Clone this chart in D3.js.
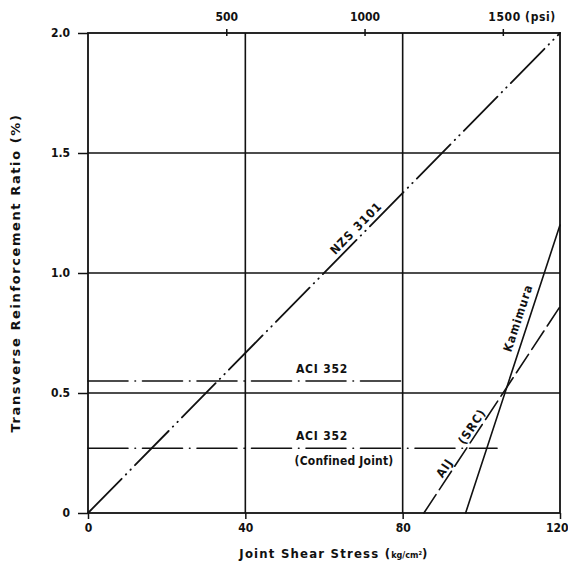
<!DOCTYPE html>
<html><head><meta charset="utf-8">
<script src="https://cdn.jsdelivr.net/npm/d3@7"></script>
<style>
body{margin:0;background:#fff;}
text{font-family:"DejaVu Sans Condensed","DejaVu Sans",sans-serif;fill:#111;}
</style></head><body>
<svg id="c" width="568" height="572"></svg>
<script>
// ---- data ----
const xTicks = [0, 40, 80, 120];
const xTickLabels = ["0", "40", "80", "120"];
const yTicks = [0, 0.5, 1.0, 1.5, 2.0];
const yTickLabels = ["0", "0.5", "1.0", "1.5", "2.0"];
const psiTicks = [500, 1000, 1500];
const psiTickLabels = ["500", "1000", "1500 (psi)"];
const psiPerKg = 14.223;
const nzs = [[0, 0], [120, 2.0]];
const aci = [[0, 0.55], [80, 0.55]];
const aciConfined = [[0, 0.27], [104, 0.27]];
const kamimura = [[96, 0], [120, 1.2]];
const aij = [[85.4, 0], [120, 0.86]];

const svg = d3.select("#c");
const x = d3.scaleLinear().domain([0, 120]).range([88, 560]);
const y = d3.scaleLinear().domain([0, 2]).range([513, 33]);
const xp = d3.scaleLinear().domain([0, 120 * psiPerKg]).range([88, 560]);

// grid
const g = svg.append("g");
g.selectAll("line.hg").data([0.5, 1.0, 1.5]).join("line")
  .attr("x1", x(0)).attr("x2", x(120)).attr("y1", d => y(d)).attr("y2", d => y(d))
  .attr("stroke", "#111").attr("stroke-width", 1.5);
g.selectAll("line.vg").data([40, 80]).join("line")
  .attr("x1", d => x(d)).attr("x2", d => x(d)).attr("y1", y(0)).attr("y2", y(2))
  .attr("stroke", "#111").attr("stroke-width", 1.6);
// frame
g.append("rect").attr("x", x(0)).attr("y", y(2)).attr("width", x(120) - x(0)).attr("height", y(0) - y(2))
  .attr("fill", "none").attr("stroke", "#111").attr("stroke-width", 1.8);

// axes
const ax = svg.append("g").attr("transform", `translate(0,${y(0)})`)
  .call(d3.axisBottom(x).tickValues(xTicks).tickFormat((d, i) => xTickLabels[i]).tickSize(6).tickPadding(4));
const ay = svg.append("g").attr("transform", `translate(${x(0)},0)`)
  .call(d3.axisLeft(y).tickValues(yTicks).tickFormat((d, i) => yTickLabels[i]).tickSize(10).tickPadding(8));
const at = svg.append("g").attr("transform", `translate(0,${y(2)})`)
  .call(d3.axisTop(xp).tickValues(psiTicks).tickFormat((d, i) => psiTickLabels[i]).tickSize(4).tickPadding(8));
[ax, ay, at].forEach(a => {
  a.select(".domain").remove();
  a.selectAll("line").attr("stroke", "#111").attr("stroke-width", 1.5);
  a.selectAll("text").attr("font-size", 12).attr("font-weight", "bold").attr("fill", "#111");
});
at.selectAll(".tick line").attr("y2", 3).attr("y1", -4);
at.selectAll(".tick:last-child text").attr("text-anchor", "start").attr("dx", -15).attr("letter-spacing", 0.6);
ax.selectAll(".tick:last-child text").attr("text-anchor", "end").attr("dx", 8);

// lines
const line = d3.line().x(d => x(d[0])).y(d => y(d[1]));
function draw(data, dash, w) {
  svg.append("path").attr("d", line(data)).attr("fill", "none")
    .attr("stroke", "#111").attr("stroke-width", w || 1.6)
    .attr("stroke-dasharray", dash).attr("stroke-linecap", "round");
}
draw(nzs, "48,6,0.5,6,0.5,6", 1.8);
draw(aci, "40,7,0.5,7", 1.6);
draw(aciConfined, "40,7,0.5,7", 1.6);
draw(kamimura, null, 1.6);
draw(aij, "22,6", 1.6);

// labels (centred at given pixel, rotated along their line)
function label(txt, cx, cy, a, ls) {
  svg.append("text").attr("transform", `translate(${cx},${cy}) rotate(${a})`)
    .attr("text-anchor", "middle").attr("dy", "0.35em").attr("font-size", 12)
    .attr("letter-spacing", ls).attr("font-weight", "bold").attr("xml:space", "preserve").text(txt);
}
const ang = (p) => Math.atan2(y(p[1][1]) - y(p[0][1]), x(p[1][0]) - x(p[0][0])) * 180 / Math.PI;
label("NZS 3101", 356, 228, ang(nzs), 1.2);
label("ACI 352", 322, 369, 0, 0.8);
label("ACI 352", 322, 436, 0, 0.8);
label("(Confined Joint)", 344, 461, 0, 0.2);
label("Kamimura", 518, 318, ang(kamimura), 1.0);
label("AIJ    (SRC)", 461, 443, ang(aij), 1.2);

// axis titles
svg.append("text").attr("transform", `translate(20,${(y(0) + y(2)) / 2}) rotate(-90)`)
  .attr("text-anchor", "middle").attr("font-size", 13).attr("font-weight", "bold")
  .attr("letter-spacing", 1.6).style("font-family", "'DejaVu Sans',sans-serif")
  .text("Transverse Reinforcement Ratio (%)");
const xt = svg.append("text").attr("x", 334).attr("y", 558).attr("text-anchor", "middle")
  .attr("font-size", 13).attr("font-weight", "bold").attr("letter-spacing", 1.2);
xt.append("tspan").text("Joint Shear Stress (");
xt.append("tspan").attr("font-size", 9).attr("letter-spacing", 0).text("kg/cm²");
xt.append("tspan").text(")");
</script></body></html>
